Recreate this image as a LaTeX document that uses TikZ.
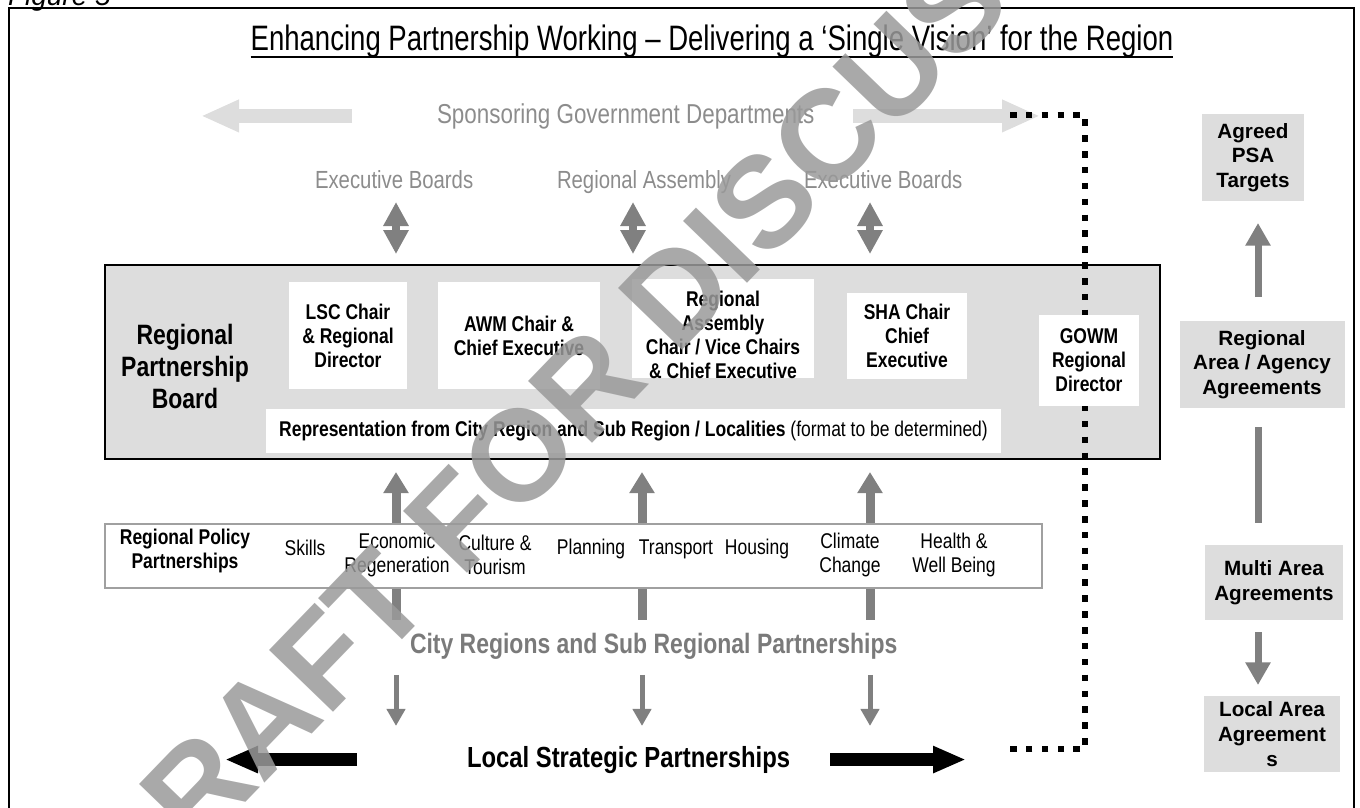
\documentclass[tikz,border=0pt]{standalone}
\usepackage{fontspec}
\setmainfont{Liberation Sans}
\newfontfamily\narrowfont{Liberation Sans}[FakeStretch=0.82]
\newfontfamily\titlefont{Liberation Sans}[FakeStretch=0.78]
\usetikzlibrary{arrows.meta}
\definecolor{boxgrey}{HTML}{DDDDDD}
\definecolor{palegrey}{HTML}{DDDDDD}
\definecolor{arrowgrey}{HTML}{808080}
\definecolor{labelgrey}{HTML}{8C8C8C}
\definecolor{citygrey}{HTML}{7A7A7A}
\definecolor{edgegrey}{HTML}{A0A0A0}
\definecolor{markgrey}{HTML}{9A9A9A}

\begin{document}
\begin{tikzpicture}[x=0.75pt,y=-0.75pt,
  every node/.style={inner sep=0pt,outer sep=0pt},
  panel/.style={fill=white,align=center,font=\narrowfont\bfseries\fontsize{16}{18}\selectfont},
  paneltext/.style={align=center,font=\narrowfont\bfseries\fontsize{16}{18}\selectfont},
  sidebox/.style={fill=boxgrey,align=center,font=\bfseries\fontsize{15.5}{18.5}\selectfont},
  faintlabel/.style={text=labelgrey,anchor=base west,font=\narrowfont\fontsize{18.6}{22}\selectfont},
  policyitem/.style={align=center,font=\narrowfont\fontsize{16}{18}\selectfont},
  policyhead/.style={align=center,font=\narrowfont\bfseries\fontsize{16}{18}\selectfont},
  pale arrow/.style={draw=palegrey,line width=10.5pt,-{Triangle[length=28.5pt,width=22.5pt]}},
  both arrow/.style={draw=arrowgrey,line width=6pt,{Triangle[length=18pt,width=18pt]}-{Triangle[length=18pt,width=18pt]}},
  up arrow/.style={draw=arrowgrey,line width=6.75pt,-{Triangle[length=15.75pt,width=18pt]}},
  thin arrow/.style={draw=arrowgrey,line width=3.75pt,-{Triangle[length=12.75pt,width=13.5pt]}},
  black arrow/.style={draw=black,line width=9.75pt,-{Triangle[length=24.75pt,width=18.75pt]}},
  side arrow/.style={draw=arrowgrey,line width=5.25pt,-{Triangle[length=17pt,width=18pt]}},
  side line/.style={draw=arrowgrey,line width=5.25pt},
  dotline/.style={line width=4.9pt,dash pattern=on 4.9pt off 7pt}]

\useasboundingbox (0,0) rectangle (1360,807);

% outer frame and headings
\draw[line width=1.5pt] (9,8) rectangle (1354,840);
\node[anchor=base west,font=\itshape\fontsize{21}{24}\selectfont] (fig) at (8,5) {Figure 5};
\node[anchor=base,font=\titlefont\fontsize{26.5}{30}\selectfont] (title) at (712,50)
  {Enhancing Partnership Working – Delivering a ‘Single Vision’ for the Region};
\draw[line width=1.6pt] ([yshift=-5pt]title.base west) -- ([yshift=-5pt]title.base east);

% sponsoring departments
\node[anchor=base west,text=labelgrey,font=\narrowfont\fontsize{20.5}{24}\selectfont] (sgd) at (437,123)
  {Sponsoring Government Departments};
\coordinate (paleL) at (201,0);
\coordinate (paleR) at (1040,0);
\draw[pale arrow,shorten <=63.75pt] (sgd.west) -- (sgd.west -| paleL);
\draw[pale arrow,shorten <=29.25pt] (sgd.east) -- (sgd.east -| paleR);

% boards above the partnership board
\node[faintlabel] (eb1) at (315,188) {Executive Boards};
\node[faintlabel] (ra) at (557,188) {Regional Assembly};
\node[faintlabel] (eb2) at (804,188) {Executive Boards};

% main board
\node[draw=black,line width=1.5pt,fill=boxgrey,minimum width=791.25pt,minimum height=145.5pt] (board) at (632.5,362) {};

\coordinate (dA) at (396,0);
\coordinate (dB) at (633,0);
\coordinate (dC) at (870,0);
\draw[both arrow,shorten <=10.5pt,shorten >=8.25pt] (dA |- eb1.base) -- (dA |- board.north);
\draw[both arrow,shorten <=10.5pt,shorten >=8.25pt] (dB |- ra.base) -- (dB |- board.north);
\draw[both arrow,shorten <=10.5pt,shorten >=8.25pt] (dC |- eb2.base) -- (dC |- board.north);

% dotted government office link
\coordinate (dtl) at (1010,115);
\coordinate (dotcol) at (1085,0);
\coordinate (dbl) at (1010,749);
\draw[dotline] (dtl) -- (dtl -| dotcol) -- (dotcol |- dbl) -- (dbl);

\node[font=\narrowfont\bfseries\fontsize{21}{24}\selectfont,align=center] (rpb) at (185,366)
  {Regional\\Partnership\\Board};
\node[panel,minimum width=88.5pt,minimum height=80.25pt] (lsc) at (348,335.5) {LSC Chair\\\& Regional\\Director};
\node[panel,minimum width=121.5pt,minimum height=80.25pt] (awm) at (519,335.5) {AWM Chair \&\\Chief Executive};
\node[fill=white,minimum width=136.5pt,minimum height=74.25pt] (rab) at (723,328.5) {};
\begin{scope}
  \clip (rab.south west) rectangle (rab.north east);
  \node[paneltext] (ratext) at (723,335) {Regional\\Assembly\\Chair / Vice Chairs\\\& Chief Executive};
\end{scope}
\node[panel,minimum width=90pt,minimum height=64.5pt] (sha) at (907,336) {SHA Chair\\Chief\\Executive};
\node[panel,minimum width=75pt,minimum height=68.25pt] (gowm) at (1089,360.5) {GOWM\\Regional\\Director};
\node[fill=white,minimum width=551.25pt,minimum height=33pt,font=\narrowfont\fontsize{16}{18}\selectfont] (rep) at (633.5,431)
  {\bfseries Representation from City Region and Sub Region / Localities \mdseries(format to be determined)};

% city regions and the arrows up to the board
\node[anchor=base west,text=citygrey,font=\narrowfont\bfseries\fontsize{21}{24}\selectfont] (cr) at (410,653)
  {City Regions and Sub Regional Partnerships};
\coordinate (cA) at (396,0);
\coordinate (cB) at (642,0);
\coordinate (cC) at (870,0);
\draw[up arrow,shorten <=9.75pt,shorten >=9.75pt] (cA |- cr.north) -- (cA |- board.south);
\draw[up arrow,shorten <=9.75pt,shorten >=9.75pt] (cB |- cr.north) -- (cB |- board.south);
\draw[up arrow,shorten <=9.75pt,shorten >=9.75pt] (cC |- cr.north) -- (cC |- board.south);

% regional policy partnerships strip
\node[draw=edgegrey,line width=1.5pt,fill=white,minimum width=702.75pt,minimum height=48pt] (policy) at (573.5,556) {};
\node[policyhead] (rpp) at (185,551) {Regional Policy\\Partnerships};
\node[policyitem] (skills) at (305,548) {Skills};
\node[policyitem] (econ) at (397,555) {Economic\\Regeneration};
\node[policyitem] (cult) at (495,555) {Culture \&\\Tourism};
\node[policyitem] (plan) at (591,549) {Planning};
\node[policyitem] (trans) at (676,549) {Transport};
\node[policyitem] (hous) at (757,549) {Housing};
\node[policyitem] (clim) at (850,555) {Climate\\Change};
\node[policyitem] (health) at (954,555) {Health \&\\Well Being};

% local strategic partnerships
\node[anchor=base west,font=\narrowfont\bfseries\fontsize{21.8}{24}\selectfont] (lsp) at (467,767)
  {Local Strategic Partnerships};
\draw[thin arrow,shorten <=12pt,shorten >=15pt] (cA |- cr.south) -- (cA |- lsp.north);
\draw[thin arrow,shorten <=12pt,shorten >=15pt] (cB |- cr.south) -- (cB |- lsp.north);
\draw[thin arrow,shorten <=12pt,shorten >=15pt] (cC |- cr.south) -- (cC |- lsp.north);
\coordinate (lspL) at (225,0);
\coordinate (lspR) at (966,0);
\draw[black arrow,shorten <=82.5pt] (lsp.west) -- (lsp.west -| lspL);
\draw[black arrow,shorten <=30pt] (lsp.east) -- (lsp.east -| lspR);

% agreements column
\coordinate (sx) at (1258,0);
\node[sidebox,minimum width=76.5pt,minimum height=65.25pt] (psa) at (1253,157.5) {Agreed\\PSA\\Targets};
\node[sidebox,minimum width=123.75pt,minimum height=65.25pt] (raa) at (1262,364.5) {Regional\\Area / Agency\\Agreements};
\node[sidebox,minimum width=103.5pt,minimum height=56.25pt] (maa) at (1274,582.5) {Multi Area\\Agreements};
\node[sidebox,minimum width=102pt,minimum height=57pt] (laa) at (1272,734) {Local Area\\Agreement\\s};
\draw[side arrow,shorten <=18pt,shorten >=16.5pt] (sx |- raa.north) -- (sx |- psa.south);
\draw[side line,shorten <=14.25pt,shorten >=16.5pt] (sx |- raa.south) -- (sx |- maa.north);
\draw[side arrow,shorten <=9pt,shorten >=8.25pt] (sx |- maa.south) -- (sx |- laa.north);

% watermark
\node[rotate=46,text=markgrey,opacity=0.85,font=\bfseries\fontsize{97}{97}\selectfont] (mark) at (652,318)
  {DRAFT FOR DISCUSSION};
\end{tikzpicture}
\end{document}
